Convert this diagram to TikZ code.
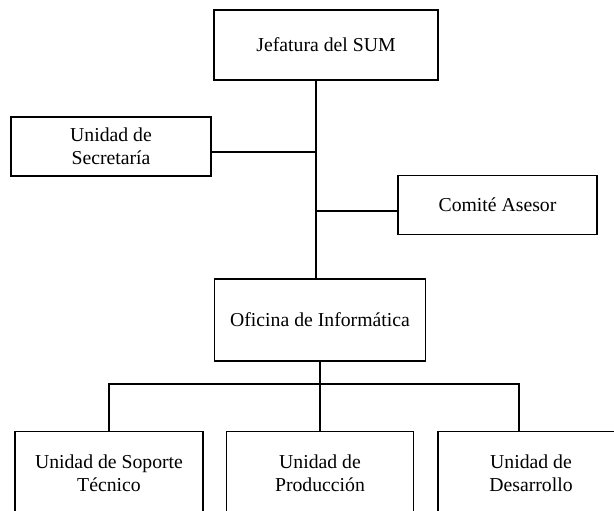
\documentclass[tikz,border=0pt]{standalone}
\usepackage{fontspec}
\setmainfont{Liberation Serif}
\usetikzlibrary{positioning}

\begin{document}
\begin{tikzpicture}[x=0.5bp, y=-0.5bp, line width=0.65pt,
    unit/.style={draw, rectangle, align=center, inner sep=0pt,
        font=\fontsize{9.9}{11.6}\selectfont}]
    \clip (0,0) rectangle (614,511);
    % top levels
    \node[unit, minimum width=112bp, minimum height=35bp] (jefe) at (326,45) {Jefatura del SUM};
    \node[unit, minimum width=100bp, minimum height=29.5bp] (secre) at (111,146.5) {Unidad de\\Secretaría};
    \node[unit, minimum width=99.5bp, minimum height=29.5bp] (comite) at (497.5,205) {Comité Asesor};
    \node[unit, minimum width=105.5bp, minimum height=41bp] (oficina) at (320,320) {Oficina de Informática};
    % bottom row
    \node[unit, minimum width=94bp, minimum height=41.5bp] (soporte) at (109,473) {Unidad de Soporte\\Técnico};
    \node[unit, minimum width=93.5bp, minimum height=41.5bp] (produccion) at (320,473) {Unidad de\\Producción};
    \node[unit, minimum width=93bp, minimum height=41.5bp] (desarrollo) at (531,473) {Unidad de\\Desarrollo};
    \coordinate (spine) at (316,0);
    \coordinate (slink) at (0,152);
    \coordinate (clink) at (0,211);
    \coordinate (rbranch) at (519,384);
    \draw (jefe.south -| spine) -- (oficina.north -| spine);
    \draw (secre.east |- slink) -- (spine |- slink);
    \draw (comite.west |- clink) -- (spine |- clink);
    \draw (oficina.south) -- (produccion.north);
    \draw (soporte.north) |- (rbranch) -- (rbranch |- desarrollo.north);
\end{tikzpicture}
\end{document}
